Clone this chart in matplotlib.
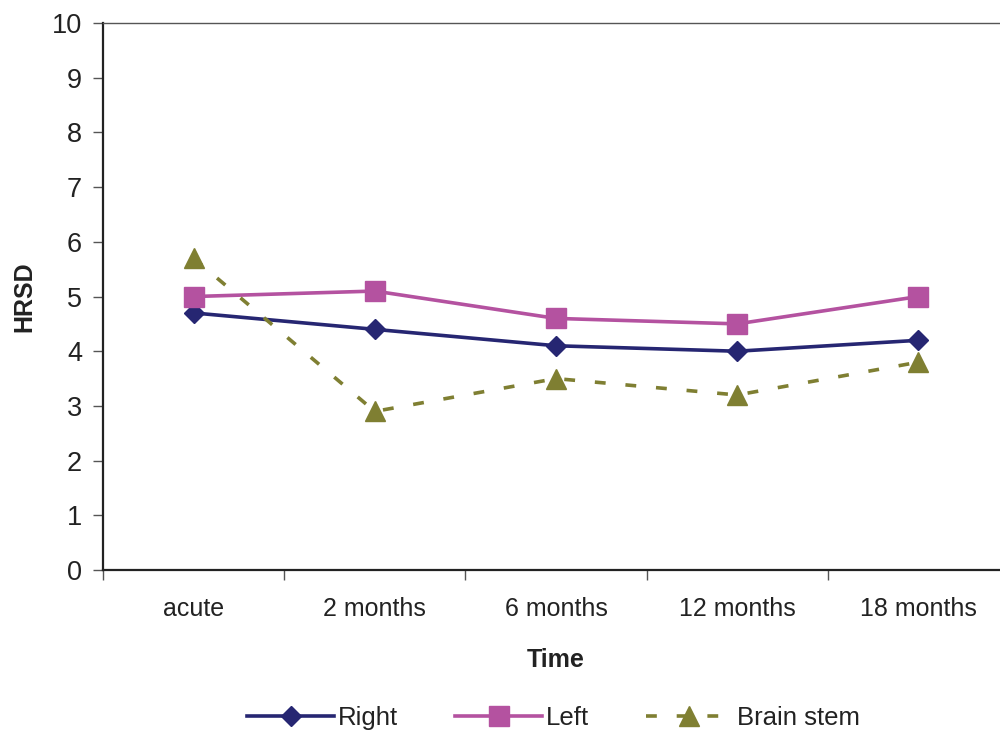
import matplotlib.pyplot as plt
import numpy as np

plt.rcParams["font.family"] = ["Liberation Sans", "DejaVu Sans"]

categories = ["acute", "2 months", "6 months", "12 months", "18 months"]
right = [4.7, 4.4, 4.1, 4.0, 4.2]
left = [5.0, 5.1, 4.6, 4.5, 5.0]
brain_stem = [5.7, 2.9, 3.5, 3.2, 3.8]

x = np.arange(len(categories))

fig = plt.figure(figsize=(10, 7.31), dpi=100)
ax = fig.add_axes([0.103, 0.2202, 0.906, 0.7483])

ax.plot(x, right, color="#262672", linewidth=2.6, marker="D", markersize=10,
        label="Right")
ax.plot(x, left, color="#B452A0", linewidth=2.6, marker="s", markersize=15,
        label="Left")
ax.plot(x, brain_stem, color="#7F7F32", linewidth=2.6, marker="^", markersize=15,
        dashes=(3, 5.5), label="Brain stem")

ax.set_xlim(-0.5, len(categories) - 0.5)
ax.set_ylim(0, 10)
ax.set_yticks(range(0, 11))
ax.set_xticks(x)
ax.set_xticklabels(categories)
ax.set_xticks(np.arange(-0.5, len(categories)), minor=True)
ax.tick_params(axis="x", which="major", length=0, pad=19.5, labelsize=18,
               labelcolor="#222222")
ax.tick_params(axis="x", which="minor", length=7, width=1, color="#555555")
ax.tick_params(axis="y", length=7, width=1, color="#555555", labelsize=19.5,
               pad=8, labelcolor="#222222")

for side in ["left", "bottom"]:
    ax.spines[side].set_linewidth(1.6)
    ax.spines[side].set_color("#222222")
ax.spines["top"].set_color("#555555")
ax.spines["top"].set_linewidth(1.0)
ax.spines["right"].set_visible(False)

ax.set_ylabel("HRSD", fontsize=18, fontweight="bold", labelpad=11,
              color="#222222")
ax.set_xlabel("Time", fontsize=18, fontweight="bold", labelpad=19,
              color="#222222")

leg = fig.legend(loc="center", bbox_to_anchor=(0.5535, 0.018), ncol=3,
                 frameon=False, fontsize=18.5, handlelength=3.4,
                 handletextpad=0.15, columnspacing=2.2)
for t in leg.get_texts():
    t.set_color("#222222")

fig.savefig("out.png", dpi=100, facecolor="white")
